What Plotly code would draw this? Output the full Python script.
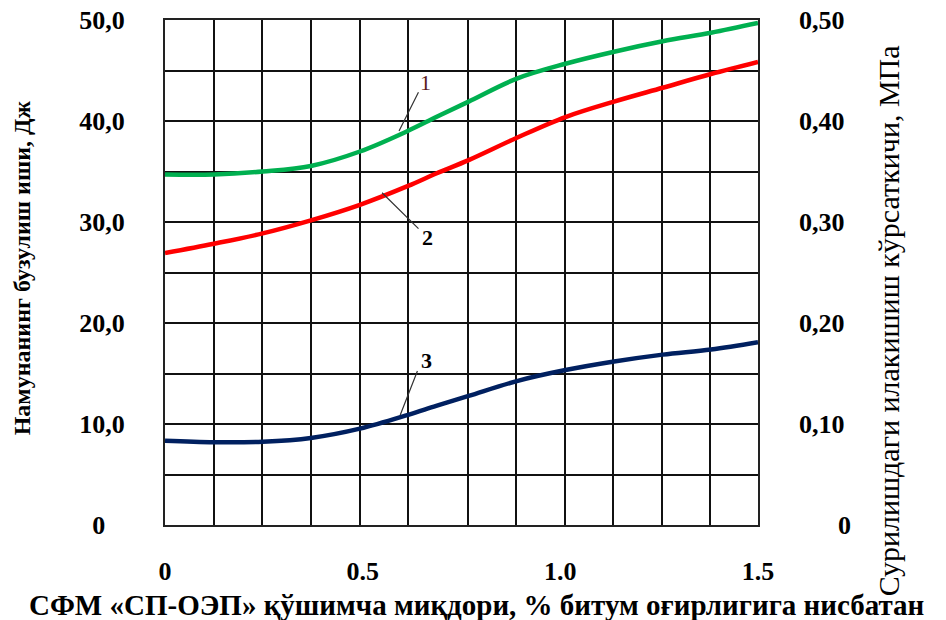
import plotly.graph_objects as go

# ---- data ----
x_vals = [0.0, 0.124, 0.247, 0.369, 0.493, 0.615, 0.686, 0.768, 0.890, 1.013, 1.136, 1.259, 1.381, 1.5]
curve1 = [34.7, 34.7, 35.0, 35.55, 36.98, 39.03, 40.39, 41.92, 44.2, 45.67, 46.86, 47.89, 48.74, 49.7]
curve2 = [26.93, 27.85, 28.87, 30.16, 31.70, 33.57, 34.8, 36.13, 38.34, 40.39, 41.92, 43.29, 44.65, 45.85]
curve3 = [8.35, 8.2, 8.25, 8.62, 9.54, 10.91, 11.8, 12.78, 14.25, 15.34, 16.19, 16.87, 17.38, 18.1]

x_tickvals = [0, 0.5, 1.0, 1.5]
x_ticktext = ["0", "0.5", "1.0", "1.5"]
grid_x = [0.0, 0.123, 0.246, 0.369, 0.492, 0.615, 0.767, 0.889, 1.012, 1.134, 1.257, 1.379, 1.5]

y_left_vals = [0, 5, 10, 15, 20, 25, 30, 35, 40, 45, 50]
y_left_text = ["0\u2007\u2008", "", "10,0", "", "20,0", "", "30,0", "", "40,0", "", "50,0"]
y_right_vals = [0, 0.1, 0.2, 0.3, 0.4, 0.5]
y_right_text = ["\u2007\u2007\u20070", "0,10", "0,20", "0,30", "0,40", "0,50"]

labels = ["1", "2", "3"]
label_pos = [(0.658, 43.8), (0.663, 28.5), (0.661, 16.3)]
leader_from = [(0.643, 43.0), (0.645, 29.2), (0.640, 15.4)]
leader_to = [(0.592, 39.0), (0.549, 32.9), (0.595, 10.9)]

colors = ["#00B050", "#FF0000", "#002060"]

FONT = "Liberation Serif"

fig = go.Figure()
for ys, c in zip([curve1, curve2, curve3], colors):
    fig.add_trace(go.Scatter(x=x_vals, y=ys, mode="lines", line=dict(color=c, width=4.5, shape="spline", smoothing=1.0),
                             showlegend=False, hoverinfo="skip"))
# invisible trace for right axis
fig.add_trace(go.Scatter(x=[0], y=[0], yaxis="y2", mode="markers", marker=dict(opacity=0), showlegend=False, hoverinfo="skip"))

fig.update_layout(
    width=946, height=620,
    margin=dict(l=165, r=188, t=20, b=95),
    paper_bgcolor="white", plot_bgcolor="white",
    font=dict(family=FONT, color="black"),
    xaxis=dict(range=[0, 1.5], tickvals=x_tickvals, ticktext=x_ticktext, showgrid=False, zeroline=False,
               showline=True, mirror=True, linecolor="#222", linewidth=2, ticks="", automargin=False,
               tickfont=dict(size=26, family=FONT, weight="bold"), ticklabelstandoff=22,
               minor=dict(tickvals=grid_x, showgrid=True, gridcolor="#111", gridwidth=1.5, ticks="")),
    yaxis=dict(range=[0, 50], tickvals=y_left_vals, ticktext=y_left_text, showgrid=True, gridcolor="#111", gridwidth=1.5,
               zeroline=False, showline=True, mirror=True, linecolor="#222", linewidth=2, ticks="", automargin=False,
               tickfont=dict(size=26, family=FONT, weight="bold"), ticklabelstandoff=33),
    yaxis2=dict(range=[0, 0.5], overlaying="y", side="right", tickvals=y_right_vals, ticktext=y_right_text,
                showgrid=False, zeroline=False, showline=False, ticks="", automargin=False,
                tickfont=dict(size=26, family=FONT, weight="bold"), ticklabelstandoff=40),
)

annotations = []
for t, (lx, ly), (fx, fy), (tx, ty) in zip(labels, label_pos, leader_from, leader_to):
    annotations.append(dict(x=lx, y=ly, xref="x", yref="y", text=t, showarrow=False,
                            font=dict(size=22, family=FONT, color="#5a1a1a" if t == "1" else "black",
                                      weight="normal" if t == "1" else "bold")))
    annotations.append(dict(x=tx, y=ty, ax=fx, ay=fy, xref="x", yref="y", axref="x", ayref="y", text="",
                            showarrow=True, arrowhead=0, arrowwidth=1.2, arrowcolor="#333"))

annotations.append(dict(x=-0.2405, y=0.509, xref="paper", yref="paper", xanchor="center", yanchor="middle",
                        text="Намунанинг бузулиш иши, Дж",
                        textangle=-90, showarrow=False, font=dict(size=24, family=FONT, weight="bold")))
annotations.append(dict(x=1.2207, y=0.405, xref="paper", yref="paper", xanchor="center", yanchor="middle",
                        text="Сурилишдаги илакишиш кўрсаткичи, МПа",
                        textangle=-90, showarrow=False, font=dict(size=30, family=FONT)))
annotations.append(dict(x=0.525, y=-0.158, xref="paper", yref="paper", xanchor="center", yanchor="middle",
                        text="СФМ «СП-ОЭП» қўшимча миқдори, % битум оғирлигига нисбатан",
                        showarrow=False, font=dict(size=29, family=FONT, weight="bold")))
fig.update_layout(annotations=annotations)

fig.write_html("out.html")
